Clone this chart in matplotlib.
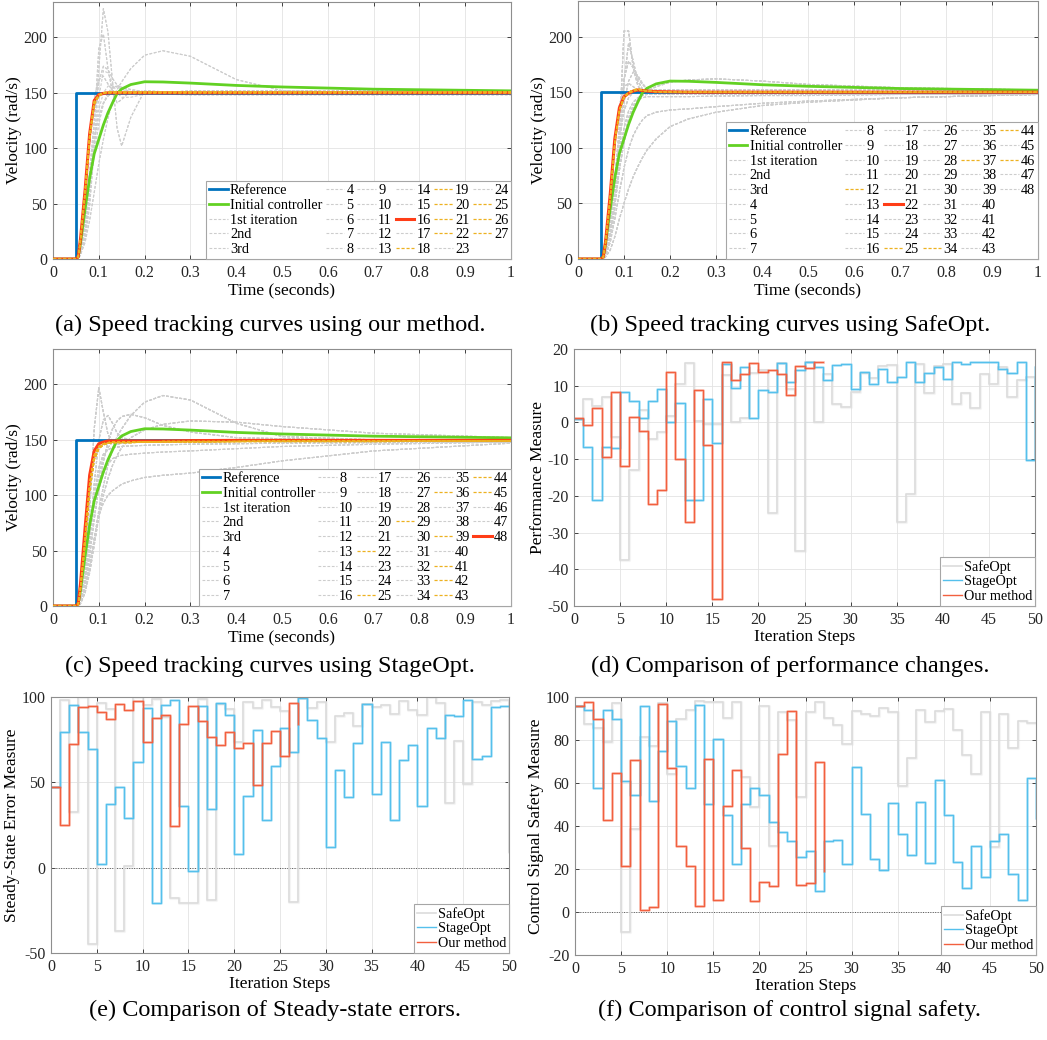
import matplotlib
matplotlib.use('Agg')
import matplotlib.pyplot as plt
from matplotlib.lines import Line2D
import numpy as np

plt.rcParams['font.family'] = ['Liberation Serif', 'DejaVu Serif']
plt.rcParams['axes.unicode_minus'] = False

# === D A T A ===

# time grid for the velocity curves (seconds)
T = [0, .05, .055, .06, .07, .08, .09, .10, .11, .12, .13, .14, .15, .17, .20, .24, .30, .40, .50, .70, 1.0]
ref_t = [0, 0.05, 0.05, 1.0]
ref_v = [0, 0, 150, 150]
init_v = [0, 0, 2, 14, 45, 73, 95, 108, 121, 132, 141, 149.5, 153.5, 157.5, 160, 159.8, 158.8, 156.7, 155.3, 153.3, 151.8]

# (a) our method
best_a = [0, 0, 2, 18, 62, 113, 143, 148.5, 149.5, 150, 150, 150, 150, 150, 150, 150, 150, 150, 150, 150, 150]
gray_a = [
  [0, 0, 0, 4, 18, 48, 100, 172, 226, 205, 160, 118, 102, 128, 152, 151, 150, 150, 150, 150, 150],
  [0, 0, 0, 5, 24, 60, 122, 190, 203, 172, 150, 141, 144, 152, 151, 150, 150, 150, 150, 150, 150],
  [0, 0, 0, 4, 15, 35, 60, 86, 108, 127, 142, 153, 160, 172, 184, 188, 183, 162, 152, 150, 150],
  [0, 0, 0, 7, 34, 80, 125, 160, 174, 171, 163, 157, 154, 151, 150, 150, 150, 150, 150, 150, 150],
  [0, 0, 1, 12, 50, 105, 145, 162, 165, 158, 152, 150, 150, 150, 150, 150, 150, 150, 150, 150, 150],
  [0, 0, 0, 8, 35, 74, 107, 129, 141, 147, 150, 151, 151, 151, 151, 151, 151, 151, 151, 151, 151],
  [0, 0, 0, 6, 28, 62, 95, 122, 140, 150, 155, 156, 155, 153, 151, 150, 150, 150, 150, 150, 150],
  [0, 0, 1, 15, 56, 106, 137, 146, 149, 150, 150, 150, 150, 150, 150, 150, 152, 152, 152, 152, 152],
  [0, 0, 0, 5, 22, 55, 100, 145, 170, 168, 158, 150, 146, 146, 149, 150, 150, 150, 150, 150, 150],
  [0, 0, 0, 6, 30, 68, 105, 135, 150, 156, 157, 155, 153, 151, 150, 149, 148, 148, 148, 148, 148],
]
orange_a = [
  [0, 0, 2, 17, 60, 110, 141, 148, 150, 151, 151, 151, 151, 151, 151, 151, 151, 151, 151, 151, 151],
  [0, 0, 2, 18, 61, 112, 142, 148, 150, 150, 150, 150, 150, 150, 150, 150, 150, 150, 150, 150, 150],
  [0, 0, 1, 16, 58, 108, 139, 147, 149.5, 150.5, 150.5, 150.5, 150.5, 150.5, 150.5, 150.5, 150.5, 150.5, 150.5, 150.5, 150.5],
]
kinds_a = 'ggggggggggggggg' + 'b' + 'g' + 'ooooo' + 'gg' + 'ooo'

# (b) SafeOpt
best_b = [0, 0, 2, 16, 58, 108, 136, 146, 149, 151, 152, 151.5, 151, 150.5, 150.3, 150, 150, 150, 150, 150, 150]
gray_b = [
  [0, 0, 0, 5, 22, 56, 112, 205, 205, 172, 156, 150, 150, 150, 150, 150, 150, 150, 150, 150, 150],
  [0, 0, 0, 4, 18, 46, 92, 160, 194, 178, 160, 153, 151, 150, 150, 150, 150, 150, 150, 150, 150],
  [0, 0, 0, 6, 28, 70, 120, 162, 178, 172, 163, 157, 153, 151, 150, 150, 150, 150, 150, 150, 150],
  [0, 0, 0, 2, 8, 20, 36, 50, 63, 74, 83, 91, 98, 108, 119, 126, 132, 138, 141, 145, 148],
  [0, 0, 0, 3, 15, 36, 60, 82, 99, 111, 119, 125, 129, 132, 134, 135, 137, 140, 142, 145, 148],
  [0, 0, 0, 5, 22, 50, 80, 105, 123, 135, 143, 148, 151, 155, 159, 161, 162, 160, 157, 154, 152],
  [0, 0, 0, 6, 30, 70, 108, 133, 145, 150, 152, 152, 152, 152, 152, 152, 152, 152, 152, 152, 152],
  [0, 0, 0, 5, 25, 58, 92, 118, 133, 141, 145, 147, 148, 148, 148, 148, 148, 148, 148, 148, 148.5],
  [0, 0, 1, 12, 48, 100, 138, 155, 158, 155, 152, 151, 150, 150, 150, 150, 150, 150, 150, 150, 150],
  [0, 0, 0, 4, 20, 48, 80, 108, 127, 138, 143, 145, 146, 146, 146, 146, 146.5, 147, 147, 148, 148],
  [0, 0, 0, 7, 32, 72, 110, 140, 160, 168, 165, 158, 153, 150, 149, 149, 149, 149, 149, 149, 149],
]
orange_b = [
  [0, 0, 2, 16, 56, 105, 134, 146, 150, 152, 153, 152, 151, 150.5, 150.3, 150, 150, 150, 150, 150, 150],
  [0, 0, 1, 15, 55, 104, 133, 145, 149, 151, 152, 151.5, 151, 150.5, 150, 150, 150, 150, 150, 150, 150],
]
kinds_b = ('ggggggggggg' + 'o' + 'ggggggggg' + 'b' + 'gg' + 'o' + 'gggggggg' + 'o' + 'gg' + 'o'
           + 'gggggg' + 'o' + 'g' + 'o' + 'gg')

# (c) StageOpt
best_c = [0, 0, 2, 20, 70, 118, 140, 146.5, 148, 149, 149, 149, 149, 149, 149, 149, 149.3, 149.5, 149.5, 149.5, 149.5]
gray_c = [
  [0, 0, 0, 6, 30, 85, 160, 197, 175, 155, 148, 146, 147, 150, 150, 150, 150, 150, 150, 150, 150],
  [0, 0, 0, 5, 25, 62, 110, 150, 168, 172, 165, 156, 152, 150, 150, 150, 150, 150, 150, 150, 150],
  [0, 0, 0, 4, 15, 35, 60, 86, 108, 127, 142, 153, 160, 172, 184, 190, 186, 165, 153, 150, 150],
  [0, 0, 0, 4, 18, 45, 78, 108, 130, 148, 160, 167, 171, 173, 170, 163, 157, 152, 151, 150, 150],
  [0, 0, 0, 3, 12, 30, 55, 80, 100, 115, 127, 136, 143, 152, 159, 164, 167, 166, 162, 156, 152],
  [0, 0, 0, 2, 12, 35, 60, 82, 93, 100, 104, 107, 110, 113, 116, 118, 120, 125, 131, 140, 147],
  [0, 0, 0, 6, 28, 65, 100, 125, 137, 141, 143, 143.5, 144, 144.5, 145, 145.5, 146, 146.5, 147, 147.5, 148],
  [0, 0, 0, 4, 20, 48, 80, 105, 120, 128, 133, 135, 136, 137, 138, 139, 140, 142, 144, 146, 148],
  [0, 0, 1, 12, 48, 98, 132, 143, 146, 147, 147, 147, 147, 147.5, 148, 148, 148, 148.5, 148.5, 149, 149],
  [0, 0, 0, 5, 25, 58, 92, 118, 134, 143, 148, 150, 150, 150, 150, 150, 150, 150, 150, 150, 150],
]
orange_c = [
  [0, 0, 1, 17, 62, 110, 136, 144, 146.5, 147.5, 148, 148, 148, 148, 148, 148.5, 148.5, 148.5, 149, 149, 149],
  [0, 0, 1, 15, 56, 104, 132, 142, 145.5, 147, 147.5, 147.5, 147.5, 147.5, 148, 148, 148, 148.5, 148.5, 148.5, 149],
]
kinds_c = ('ggggggggggggggggggggg' + 'o' + 'gg' + 'o' + 'ggg' + 'o' + 'gggggg' + 'o' + 'gg'
           + 'o' + 'g' + 'ooooo' + 'gg' + 'b')

# (d) performance measure per iteration
perf_safe = [1, 6.4, 4.4, 7, -4.1, -37.6, -12.9, 3.4, -4.4, -2.5, 1.7, 10.6, 16.1, 0.3, -0.3, -0.3, 12.8, 0, 1.1,
             13.5, 14.3, -24.7, 16.3, 9.2, -35.1, 16.5, 0, 13.3, 4.9, 4.1, 8.3, 13.5, 12.2, 15.3, 15.7, -27.1,
             -19.6, 15.8, 8.1, 15.5, 15.8, 5.1, 7.9, 3.8, 13.1, 10.5, 15, 6.8, 11.5, 12.3, -9.7]
perf_stage = [1, -6.8, -21.2, -6.8, -7.1, 8.2, 5.8, 1.2, 5.8, 9.2, 0, 5.2, -21, -21, 6.5, -5.7, 15.8, 9.5, 15,
              1.1, 8.8, 8.2, 16.3, 11, 14.2, 16.5, 15, 11.5, 15.7, 16, 9.2, 13.8, 10.6, 14.5, 10.9, 12.5, 16.5,
              10.9, 13.5, 15.2, 11.8, 16.5, 15.9, 16.5, 16.5, 16.5, 14.5, 13.5, 16.5, -10.3, 15]
perf_ours = [1.1, -0.8, 4, -9.3, 8.4, -12, 1.5, -2.2, -22.1, -18.5, 13.8, -9.9, -27.1, 8.9, -6.1, -48.2, 16.5,
             11.5, 13.3, 16.3, 13.6, 14.4, 13.1, 7.6, 15.5, 14.9, 16.5, 16.5]

# (e) steady-state error measure
sse_safe = [47, 98.4, 32.4, 100, -44.6, 96.7, 93.2, -37.3, 1, 100, 95.5, 99, 88.3, -17.7, -20.8, -20.8, 99, -18.8,
            96, 93.2, 73.9, 97.3, 93.8, 98.4, 94.4, 92, -20, 99.2, 93.4, 97.3, 73.9, 89.1, 90.8, 83.2, 95.8, 94.4,
            95.5, 90.3, 97.9, 92.6, 89.3, 100, 96.7, 37.7, 74.3, 49, 97.3, 95.5, 97.9, 98.4, 9.4]
sse_stage = [47, 79.5, 95.5, 79.5, 69.8, 2, 37.5, 47.2, 29.3, 62.2, 93.8, -20.8, 95.5, 98.4, 35.9, -1.9, 94.7,
             34.2, 96.7, 89.7, 7.9, 41.7, 80.9, 27.7, 59.3, 81.9, 67.5, 99.2, 86.6, 76.2, 11.9, 57.5, 41.4, 73.3,
             96.1, 42.9, 73.7, 27.7, 63, 72.1, 35.9, 81.9, 76.2, 89.7, 89.1, 98.4, 63.4, 65.7, 94.4, 94.7, 95]
sse_ours = [47, 24.8, 72.5, 94.4, 94.6, 91.4, 87, 96.1, 92.6, 97.9, 73.9, 87.5, 89.7, 24.2, 84.4, 94.9, 86.2,
            76.8, 72.1, 79.2, 70.4, 72.9, 48.6, 73.3, 80.3, 65.7, 96.7, 84.4]

# (f) control signal safety measure
css_safe = [96, 87.5, 85.8, 79.3, 97.2, -9.5, 38.4, 81.4, 77.2, 97, 64.4, 89.9, 94, 98, 97.7, 97.7, 90.4, 97.7,
            62.8, 48.9, 95.8, 30.6, 93.2, 89.5, 53.4, 93, 97.7, 90.4, 86.8, 78.3, 93.5, 91.9, 91, 95, 92.9, 58.8,
            71.8, 94, 88.4, 93.5, 94.4, 84.8, 73.2, 64.4, 93, 30.3, 92.3, 76.5, 88.9, 88.1, 88]
css_stage = [96, 94, 57.9, 94, 89.9, 61.1, 54.6, 96, 51.8, 74.9, 89, 68.1, 57.9, 96.4, 50.4, 80.5, 45.3, 22.1,
             50.4, 57.9, 54.3, 41.9, 37.3, 32.8, 25.7, 28.2, 9.9, 32.8, 33.6, 22.1, 67.5, 45.8, 24.7, 19.5, 50.9,
             36.4, 26.3, 51.2, 23, 61.6, 45.2, 23.4, 11.1, 30.9, 16.1, 32.8, 36.4, 17.9, 5.4, 62.2, 43.5]
css_ours = [96, 97.8, 89.6, 43, 64.7, 21.6, 70.7, 0.9, 2.4, 96.9, 67.2, 30.9, 21.3, 2.9, 71.2, 5.6, 49.2, 66.2,
            29.9, 4.9, 14, 11.9, 73.7, 93.7, 12.4, 13.3, 70, 19]

captions = ['(a) Speed tracking curves using our method.', '(b) Speed tracking curves using SafeOpt.',
            '(c) Speed tracking curves using StageOpt.', '(d) Comparison of performance changes.',
            '(e) Comparison of Steady-state errors.', '(f) Comparison of control signal safety.']

# === S T Y L E ===

C_REF = '#0072BD'
C_INIT = '#62D123'
C_BEST = '#FF3D17'
C_ORANGE = '#EDB120'
C_GRAY = '#CDCDCD'
C_SAFE = '#DCDCDC'
C_STAGE = '#55C0EC'
C_OURS = '#F2603F'

W, H = 1047, 1040
fig = plt.figure(figsize=(W / 100, H / 100), dpi=100)


def px_axes(l, t, r, b):
  return fig.add_axes([l / W, 1 - b / H, (r - l) / W, (b - t) / H])


def style(ax):
  ax.grid(True, color='#E3E3E3', lw=0.6)
  ax.set_axisbelow(True)
  ax.tick_params(direction='in', length=3, width=0.6, colors='#262626', labelsize=11.5,
                 top=True, right=True, pad=4)
  for s in ax.spines.values():
    s.set_color('#8E8E8E')
    s.set_linewidth(0.8)


def iter_label(i):
  return {1: '1st iteration', 2: '2nd', 3: '3rd'}.get(i, str(i))


def vel_panel(ax, best, grays, oranges, kinds):
  handles = []
  labels = []
  h, = ax.plot(ref_t, ref_v, color=C_REF, lw=2, zorder=3)
  handles.append(h); labels.append('Reference')
  h, = ax.plot(T, init_v, color=C_INIT, lw=2, zorder=3)
  handles.append(h); labels.append('Initial controller')
  gi = 0
  oi = 0
  for i, k in enumerate(kinds, start=1):
    if k == 'b':
      h, = ax.plot(T, best, color=C_BEST, lw=2.2, zorder=4)
    elif k == 'o':
      h, = ax.plot(T, oranges[oi % len(oranges)], color=C_ORANGE, lw=0.9, ls=(0, (2.5, 1.5)), zorder=5)
      oi += 1
    else:
      h, = ax.plot(T, grays[gi % len(grays)], color=C_GRAY, lw=0.8, ls=(0, (2.5, 1.5)), zorder=2)
      gi += 1
    handles.append(h); labels.append(iter_label(i))
  # pad so every legend column holds the same number of rows
  rows = int(np.ceil(len(handles) / 6))
  while len(handles) < rows * 6 and len(handles) > 30:
    handles.append(Line2D([], [], alpha=0)); labels.append('')
  ax.set_xlim(0, 1)
  ax.set_ylim(0, 232)
  ax.set_xticks(np.arange(0, 1.01, 0.1))
  ax.set_xticklabels(['0'] + ['%.1f' % v for v in np.arange(0.1, 0.95, 0.1)] + ['1'])
  ax.set_yticks([0, 50, 100, 150, 200])
  ax.set_xlabel('Time (seconds)', fontsize=12.5, labelpad=1)
  ax.set_ylabel('Velocity (rad/s)', fontsize=12.5, labelpad=1)
  style(ax)
  lg = ax.legend(handles, labels, ncol=6, loc='lower right', borderaxespad=0, fontsize=10.3,
                 handlelength=1.3, handletextpad=0.15, columnspacing=0.25, labelspacing=0.12,
                 borderpad=0.2, fancybox=False, framealpha=1, edgecolor='#A6A6A6')
  lg.get_frame().set_linewidth(0.8)


def stair_panel(ax, safe, stage, ours, ylim, yticks, ylabel, zero_line):
  if zero_line:
    ax.axhline(0, color='#555555', lw=0.7, ls=(0, (1, 1.5)), zorder=1)
  hs = []
  for y, c, lw in [(safe, C_SAFE, 1.2), (stage, C_STAGE, 1.0), (ours, C_OURS, 1.0)]:
    x = np.arange(len(y))
    ax.step(x, y, where='post', color=c, lw=lw + 1.0, alpha=0.3)
    h, = ax.step(x, y, where='post', color=c, lw=lw)
    hs.append(h)
  ax.set_xlim(0, 50)
  ax.set_ylim(*ylim)
  ax.set_xticks(np.arange(0, 51, 5))
  ax.set_yticks(yticks)
  ax.set_xlabel('Iteration Steps', fontsize=12.5, labelpad=1)
  ax.set_ylabel(ylabel, fontsize=12.5, labelpad=1)
  style(ax)
  lg = ax.legend(hs, ['SafeOpt', 'StageOpt', 'Our method'], loc='lower right', borderaxespad=0,
                 fontsize=10.3, handlelength=1.3, handletextpad=0.15, labelspacing=0.12, borderpad=0.2,
                 fancybox=False, framealpha=1, edgecolor='#A6A6A6')
  lg.get_frame().set_linewidth(0.8)


# === P L O T ===

ax_a = px_axes(53, 2, 511, 259)
vel_panel(ax_a, best_a, gray_a, orange_a, kinds_a)
ax_b = px_axes(578, 1, 1038, 259)
vel_panel(ax_b, best_b, gray_b, orange_b, kinds_b)
ax_c = px_axes(53, 349, 511, 606)
vel_panel(ax_c, best_c, gray_c, orange_c, kinds_c)

ax_d = px_axes(574, 349, 1035, 606)
stair_panel(ax_d, perf_safe, perf_stage, perf_ours, (-50, 20), np.arange(-50, 21, 10), 'Performance Measure', False)
ax_e = px_axes(51, 697, 509, 953)
stair_panel(ax_e, sse_safe, sse_stage, sse_ours, (-50, 100), [-50, 0, 50, 100], 'Steady-State Error Measure', True)
ax_f = px_axes(575, 697, 1036, 955)
stair_panel(ax_f, css_safe, css_stage, css_ours, (-20, 100), np.arange(-20, 101, 20), 'Control Signal Safety Measure', True)

cap_pos = [(270, 325), (790, 325), (270, 666), (790, 666), (275, 1010), (790, 1010)]
for (cx, cy), s in zip(cap_pos, captions):
  fig.text(cx / W, 1 - cy / H, s, ha='center', va='center', fontsize=17.5)

fig.savefig('out.png', dpi=100)
